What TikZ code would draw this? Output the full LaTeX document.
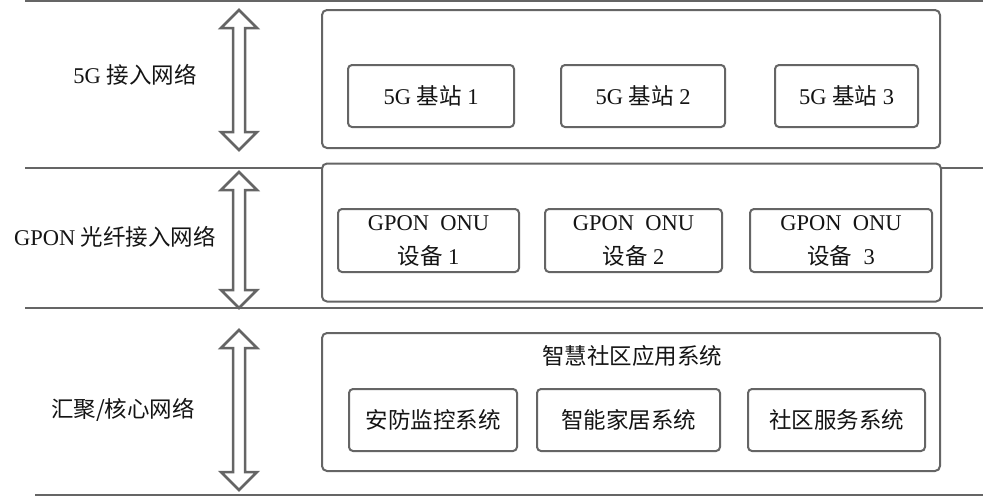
\documentclass[tikz,border=0pt]{standalone}
\usepackage{fontspec}
\setmainfont{Liberation Serif}
\newfontfamily\cjk{Noto Sans CJK SC}
\newcommand{\zh}[1]{{\cjk #1}}
\usepackage{tikz}
\usetikzlibrary{positioning}
\definecolor{edge}{HTML}{656565}
\definecolor{ink}{HTML}{141414}
\tikzset{
  layer/.style={draw=edge, line width=2pt, rounded corners=5pt, fill=white,
                minimum height=138pt},
  unit/.style={draw=edge, line width=2pt, rounded corners=4pt, fill=white,
               minimum height=62pt, align=center, text=ink,
               font=\fontsize{22.5}{34}\selectfont},
  lname/.style={text=ink, font=\fontsize{22.5}{27}\selectfont},
  sep/.style={draw=edge, line width=1.7pt},
  updown/.style={draw=edge, line width=2.5pt, fill=white, line join=miter},
}

\begin{document}
\begin{tikzpicture}[x=1pt, y=-1pt]
  \useasboundingbox (0,0) rectangle (987,498);

  % --- 分层横线 ---
  \foreach \y/\xa in {1/25, 168/25, 308/25, 495/35}
    \draw[sep] (\xa,\y) -- (983,\y);

  % --- 左侧层名 ---
  \node[lname] (n5g)   at (135,75)  {5G \zh{接入网络}};
  \node[lname] (ngpon) at (115,237) {GPON \zh{光纤接入网络}};
  \node[lname] (ncore) at (123,410) {\zh{汇聚/核心网络}};

  % --- 双向箭头 ---
  \foreach \t/\b in {10/150, 172/308, 330/490}{
    \draw[updown] (239,\t) -- (257,\t+18) -- (245,\t+18) -- (245,\b-18)
      -- (257,\b-18) -- (239,\b) -- (221,\b-18) -- (233,\b-18)
      -- (233,\t+18) -- (221,\t+18) -- cycle;
  }

  % --- 第一层: 5G 接入 ---
  \node[layer, minimum width=618pt] (l1) at (631,79) {};
  \node[unit, minimum width=166pt] (bs1) at (431,96)   {5G \zh{基站} 1};
  \node[unit, minimum width=164pt] (bs2) at (643,96)   {5G \zh{基站} 2};
  \node[unit, minimum width=143pt] (bs3) at (846.5,96) {5G \zh{基站} 3};

  % --- 第二层: GPON ---
  \node[layer, minimum width=619pt] (l2) at (631.5,232.5) {};
  \node[unit, minimum width=181pt, minimum height=63pt] (onu1) at (428.5,240.5)
       {GPON\ \ ONU\\\zh{设备} 1};
  \node[unit, minimum width=177pt, minimum height=63pt] (onu2) at (633.5,240.5)
       {GPON\ \ ONU\\\zh{设备} 2};
  \node[unit, minimum width=182pt, minimum height=63pt] (onu3) at (841,240.5)
       {GPON\ \ ONU\\\zh{设备}\ \ 3};

  % --- 第三层: 应用系统 ---
  \node[layer, minimum width=618pt] (l3) at (631,402) {};
  \node[lname] (app) at (632,356) {\zh{智慧社区应用系统}};
  \node[unit, minimum width=168pt] (sec)  at (433,420)   {\zh{安防监控系统}};
  \node[unit, minimum width=183pt] (home) at (628.5,420) {\zh{智能家居系统}};
  \node[unit, minimum width=177pt] (svc)  at (836.5,420) {\zh{社区服务系统}};
\end{tikzpicture}
\end{document}
